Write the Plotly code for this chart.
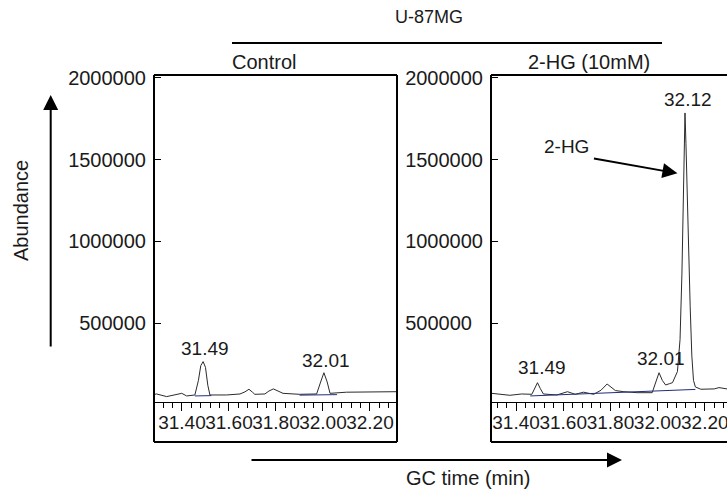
import plotly.graph_objects as go

# ---------------- data ----------------
ctrl_time = [31.281, 31.292, 31.335, 31.399, 31.42, 31.455, 31.47, 31.48, 31.49, 31.50, 31.51, 31.519,
             31.59, 31.647, 31.668, 31.685, 31.70, 31.71, 31.753, 31.77, 31.789, 31.81, 31.83, 31.90,
             31.973, 31.99, 32.004, 32.018, 32.03, 32.10, 32.20, 32.315]
ctrl_abund = [64000, 67000, 51000, 71000, 55000, 61000, 150000, 240000, 265000, 230000, 120000, 61000,
              61000, 67000, 80000, 96000, 78000, 65000, 67000, 85000, 98000, 82000, 71000, 65000,
              67000, 140000, 197000, 140000, 71000, 78000, 78000, 81000]

hg_time = [31.294, 31.297, 31.374, 31.424, 31.467, 31.48, 31.491, 31.503, 31.516, 31.573, 31.618, 31.651,
           31.686, 31.729, 31.76, 31.786, 31.821, 31.857, 31.913, 31.977, 31.993, 32.006, 32.02, 32.034,
           32.05, 32.063, 32.084, 32.095, 32.103, 32.108, 32.113, 32.116, 32.12, 32.125, 32.13, 32.138,
           32.145, 32.152, 32.16, 32.183, 32.24, 32.26, 32.294]
hg_abund = [70000, 71000, 59000, 67000, 65000, 100000, 136000, 100000, 67000, 61000, 81000, 65000,
            78000, 65000, 90000, 128000, 88000, 81000, 75000, 75000, 140000, 197000, 150000, 122000,
            130000, 136000, 204000, 400000, 800000, 1200000, 1600000, 1785000, 1600000, 1300000, 1000000, 600000,
            300000, 150000, 110000, 96000, 98000, 106000, 98000]

# integration baselines (navy)
ctrl_base_time = [31.455, 31.525, None, 31.90, 32.06]
ctrl_base_val = [55000, 57000, None, 60000, 63000]
hg_base_time = [31.46, 32.16]
hg_base_val = [55000, 95000]

# peak labels: (text, time, abundance)
ctrl_peaks = [("31.49", 31.50, 348000), ("32.01", 32.013, 271000)]
hg_peaks = [("31.49", 31.509, 226000), ("32.01", 32.013, 287000), ("32.12", 32.129, 1865000)]

y_ticks = [500000, 1000000, 1500000, 2000000]
y_tick_text = ["500000", "1000000", "1500000", "2000000"]
y_tick_text_right = ["500000\u00a0\u00a0", "1000000", "1500000", "2000000"]
x_ticks = [31.40, 31.60, 31.80, 32.00, 32.20]
x_tick_text = ["31.40", "31.60", "31.80", "32.00", "32.20"]

panel_titles = ["Control", "2-HG (10mM)"]
group_title = "U-87MG"
x_title = "GC time (min)"
y_title = "Abundance"

# ---------------- layout helpers ----------------
W, H = 727, 493
def px(x):
    return x / W
def py(y):
    return (H - y) / H

FONT = "Liberation Sans, Arial, sans-serif"
ink = "#1a1a1a"

fig = go.Figure()

fig.add_trace(go.Scatter(x=ctrl_time, y=ctrl_abund, mode="lines", line=dict(color="#2b2b2b", width=1),
                         xaxis="x", yaxis="y", showlegend=False, hoverinfo="skip"))
fig.add_trace(go.Scatter(x=ctrl_base_time, y=ctrl_base_val, mode="lines", line=dict(color="#1f2f7a", width=1),
                         xaxis="x", yaxis="y", showlegend=False, hoverinfo="skip", connectgaps=False))
fig.add_trace(go.Scatter(x=hg_time, y=hg_abund, mode="lines", line=dict(color="#2b2b2b", width=1),
                         xaxis="x2", yaxis="y2", showlegend=False, hoverinfo="skip"))
fig.add_trace(go.Scatter(x=hg_base_time, y=hg_base_val, mode="lines", line=dict(color="#1f2f7a", width=1),
                         xaxis="x2", yaxis="y2", showlegend=False, hoverinfo="skip"))

ydom = [py(402), py(75)]
yrange = [18000, 2017000]

common_x = dict(showline=True, linecolor="black", linewidth=1, ticks="outside", ticklen=8, tickwidth=1,
                tickcolor="black", tickvals=x_ticks, ticktext=x_tick_text, showgrid=False, zeroline=False,
                tickangle=0, automargin=False, ticklabelstandoff=-5, ticklabeloverflow="allow",
                tickfont=dict(family=FONT, size=19, color=ink),
                minor=dict(dtick=0.04, tick0=31.4, ticks="outside", ticklen=5, tickwidth=1, tickcolor="black",
                           showgrid=False))
common_y = dict(showline=False, ticks="inside", ticklen=7, tickwidth=1, tickcolor="black",
                tickvals=y_ticks, showgrid=False, zeroline=False, range=yrange,
                domain=ydom, tickfont=dict(family=FONT, size=20, color=ink), ticklabelstandoff=7,
                automargin=False)

fig.update_layout(
    template="none",
    width=W, height=H, margin=dict(l=0, r=0, t=0, b=0, pad=0),
    paper_bgcolor="white", plot_bgcolor="white",
    xaxis=dict(domain=[px(154), px(397)], range=[31.281, 32.315], anchor="y", **common_x),
    yaxis=dict(anchor="x", ticktext=y_tick_text, **common_y),
    xaxis2=dict(domain=[px(491), 1.0], range=[31.294, 32.294], anchor="y2", **common_x),
    yaxis2=dict(anchor="x2", ticktext=y_tick_text_right, **common_y),
)

# frames (drawn as lines, in pixel-derived paper coords)
shapes = []
lw = 2
for (x0, y0, x1, y1) in [(154, 75, 397, 75), (154, 442, 397, 442), (154, 75, 154, 442), (397, 75, 397, 442)]:
    shapes.append(dict(type="line", xref="paper", yref="paper", x0=px(x0), y0=py(y0), x1=px(x1), y1=py(y1),
                       line=dict(color="black", width=lw)))
for (x0, y0, x1, y1) in [(491, 75, 730, 75), (491, 442, 730, 442), (491, 75, 491, 442)]:
    shapes.append(dict(type="line", xref="paper", yref="paper", x0=px(x0), y0=py(y0), x1=px(x1), y1=py(y1),
                       line=dict(color="black", width=lw)))
shapes.append(dict(type="line", xref="paper", yref="paper", x0=px(232), y0=py(43), x1=px(662), y1=py(43),
                   line=dict(color="black", width=2)))
fig.update_layout(shapes=shapes)

ann = []
for t, xa, ya in ctrl_peaks:
    ann.append(dict(text=t, x=xa, y=ya, xref="x", yref="y", showarrow=False,
                    xanchor="center", yanchor="middle", font=dict(family=FONT, size=19, color=ink)))
for t, xa, ya in hg_peaks:
    ann.append(dict(text=t, x=xa, y=ya, xref="x2", yref="y2", showarrow=False,
                    xanchor="center", yanchor="middle", font=dict(family=FONT, size=19, color=ink)))
ann.append(dict(text="2-HG", x=31.613, y=1577000, xref="x2", yref="y2", showarrow=False,
                xanchor="center", yanchor="middle", font=dict(family=FONT, size=19, color=ink)))
ann.append(dict(text="", x=32.084, y=1416000, xref="x2", yref="y2", showarrow=True, ax=-85, ay=-15,
                arrowhead=2, arrowsize=1.5, arrowwidth=2, arrowcolor="black"))


def paper_text(text, x, y, size, angle=0):
    return dict(text=text, x=px(x), y=py(y), xref="paper", yref="paper", showarrow=False,
                xanchor="center", yanchor="middle", textangle=angle,
                font=dict(family=FONT, size=size, color=ink))


ann.append(paper_text(group_title, 429, 17, 18))
ann.append(paper_text(panel_titles[0], 264, 62, 20))
ann.append(paper_text(panel_titles[1], 589, 62, 20))
ann.append(paper_text(x_title, 468, 478, 20))
ann.append(paper_text(y_title, 21, 211, 20, -90))
ann.append(dict(text="", x=px(622), y=py(460), xref="paper", yref="paper", showarrow=True, ax=-372, ay=0,
                arrowhead=2, arrowsize=1.5, arrowwidth=2, arrowcolor="black"))
ann.append(dict(text="", x=px(50.7), y=py(95), xref="paper", yref="paper", showarrow=True, ax=0, ay=253,
                arrowhead=2, arrowsize=1.5, arrowwidth=2, arrowcolor="black"))
fig.update_layout(annotations=ann)

fig.write_html("out.html", config={"displayModeBar": False},
               post_script="document.body.style.margin='0';document.body.style.overflow='hidden';")
